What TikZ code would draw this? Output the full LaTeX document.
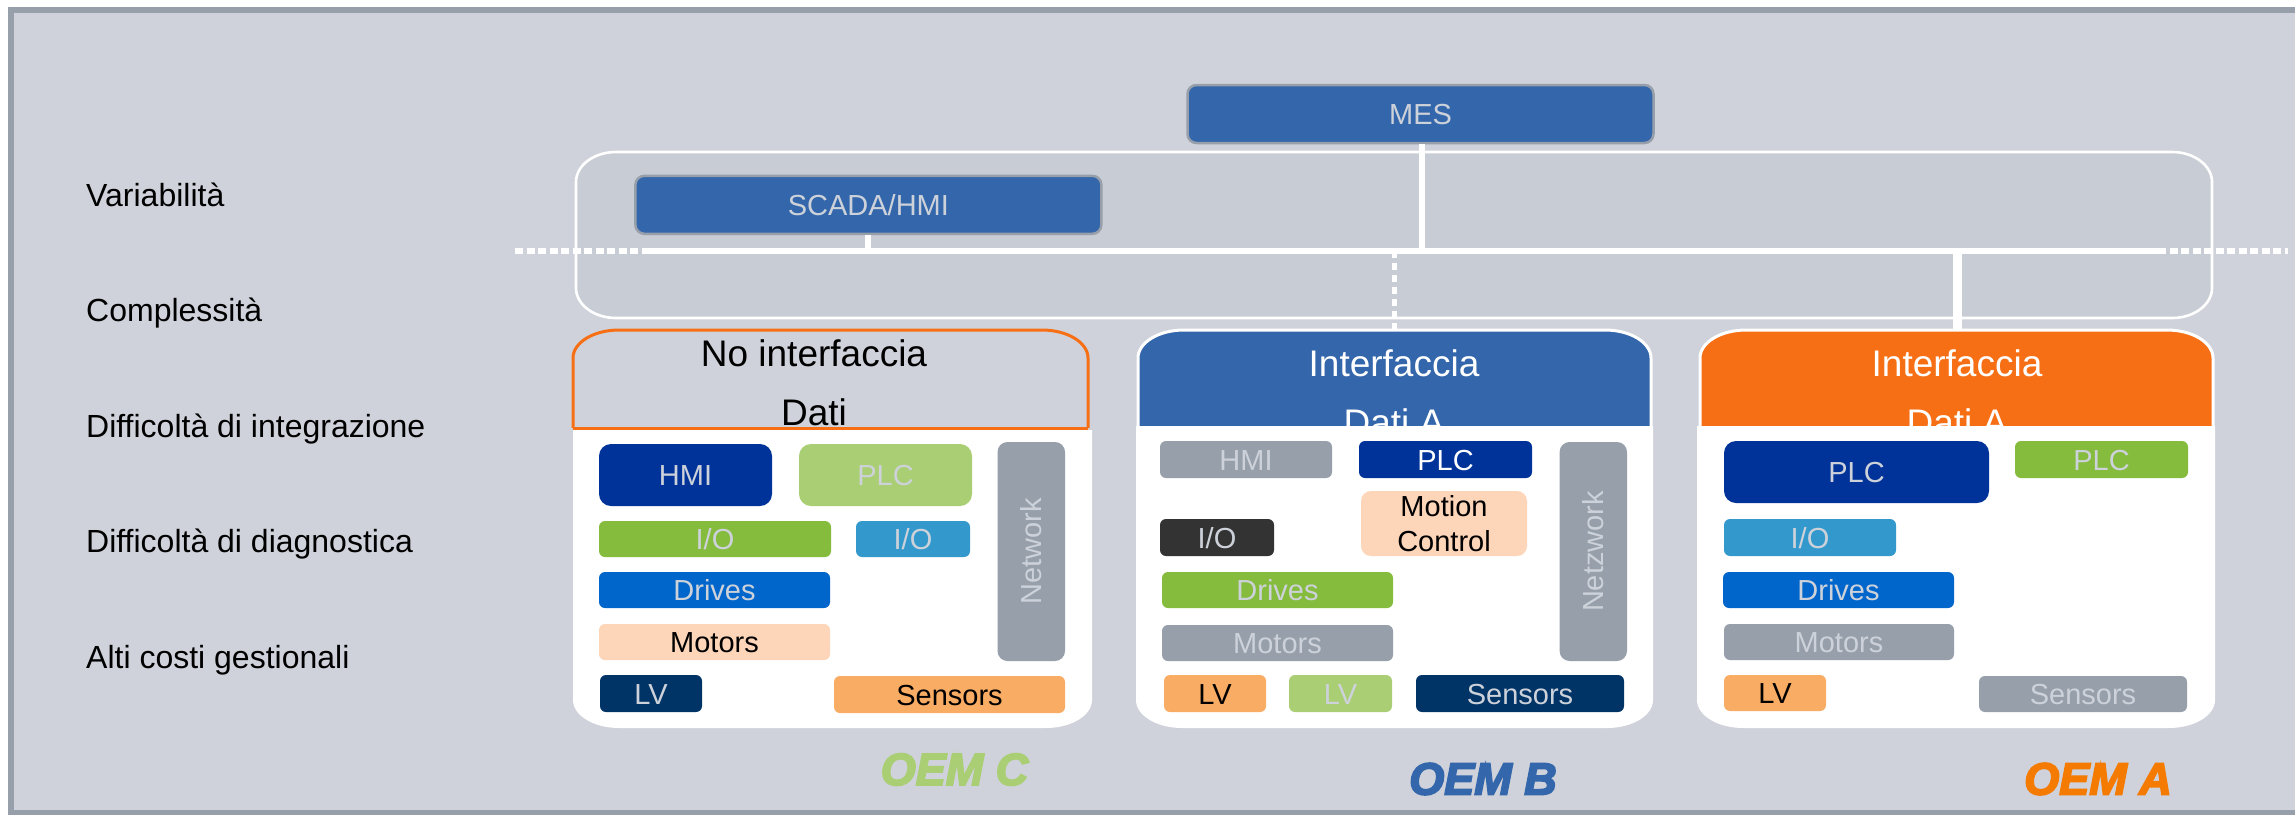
\documentclass[tikz,border=0pt]{standalone}
\usepackage{fontspec}
\setmainfont{Liberation Sans}
\newfontfamily\oemfont[BoldItalicFeatures={FakeBold=4}]{Liberation Sans}
\usepackage{xcolor}
\definecolor{mcBack}{HTML}{CFD2DA}
\definecolor{mcBand}{HTML}{C8CCD4}
\definecolor{mcFrame}{HTML}{969FAA}
\definecolor{mcSteel}{HTML}{3366AA}
\definecolor{mcOrange}{HTML}{F76F15}
\definecolor{mcOem}{HTML}{F47A00}
\definecolor{mcRoyal}{HTML}{003399}
\definecolor{mcLime}{HTML}{AACE74}
\definecolor{mcGreen}{HTML}{85BC3D}
\definecolor{mcSky}{HTML}{3399CC}
\definecolor{mcAzure}{HTML}{0066CC}
\definecolor{mcPeach}{HTML}{FDD5B8}
\definecolor{mcNavy}{HTML}{003366}
\definecolor{mcApricot}{HTML}{F9AC63}
\definecolor{mcCoal}{HTML}{333333}
\definecolor{mcText}{HTML}{CDD2DA}
\tikzset{
  hwbox/.style={rectangle,rounded corners=6pt,inner sep=0pt,text=mcText,font=\fontsize{29}{35}\selectfont,text height=21pt,text depth=0pt},
  bigbox/.style={rounded corners=12pt},
  topbox/.style={hwbox,fill=mcSteel,draw=mcFrame,line width=2.5pt,rounded corners=9pt},
  sidelabel/.style={anchor=west,inner sep=0pt,font=\fontsize{32}{38}\selectfont,text height=23pt,text depth=0pt},
  headtext/.style={anchor=base,inner sep=0pt,font=\fontsize{37}{44}\selectfont},
  oemlabel/.style={inner sep=0pt,font=\fontsize{45}{50}\oemfont\bfseries\itshape,text height=33pt,text depth=0pt},
  buswire/.style={draw=white,line width=6pt},
  busdots/.style={draw=white,line width=6pt,dash pattern=on 8pt off 3.5pt},
  panelhead/.style={line width=3pt},
}
% x1 y1 x2 y2 of a part, then its text
\newcommand{\hwpart}[7]{\node[hwbox,#1,minimum width={(#5-#3)*1pt},minimum height={(#6-#4)*1pt}] (#2) at ({(#3+#5)/2},{(#4+#6)/2}) {#7};}
\newcommand{\hwnet}[6]{\node[hwbox,rotate=90,fill=mcFrame,rounded corners=10pt,minimum width={(#5-#3)*1pt},minimum height={(#4-#2)*1pt}] (#1) at ({(#2+#4)/2},{(#3+#5)/2}) {#6};}
\newcommand{\tophead}[4]{\draw[panelhead,#1] (#2,#4) -- (#2,358) arc[start angle=180,end angle=270,x radius=46,y radius=28] -- ({#3-46},330) arc[start angle=270,end angle=360,x radius=46,y radius=28] -- (#3,#4);}
\newcommand{\lowpanel}[3]{\fill[white] (#1,#3) -- (#1,700) arc[start angle=180,end angle=90,x radius=46,y radius=28] -- ({#2-46},728) arc[start angle=90,end angle=0,x radius=46,y radius=28] -- (#2,#3) -- cycle;}

\begin{document}
\begin{tikzpicture}[x=1pt,y=-1pt]
  \useasboundingbox (0,0) rectangle (2295,815);

  % frame and band
  \fill[mcFrame] (8,7) rectangle (2295,815);
  \fill[mcBack] (14,13) rectangle (2295,810);
  \draw[white,fill=mcBand,line width=2.6pt] (576,182) arc[start angle=180,end angle=270,x radius=40,y radius=30] -- (2172,152) arc[start angle=270,end angle=360,x radius=40,y radius=30] -- (2212,288) arc[start angle=0,end angle=90,x radius=40,y radius=30] -- (616,318) arc[start angle=90,end angle=180,x radius=40,y radius=30] -- cycle;

  \node[sidelabel] (variab) at (86,195) {Variabilità};
  \node[sidelabel] (comples) at (86,310) {Complessità};
  \node[sidelabel] (integr) at (86,426) {Difficoltà di integrazione};
  \node[sidelabel] (diagn) at (86,541) {Difficoltà di diagnostica};
  \node[sidelabel] (costi) at (86,657) {Alti costi gestionali};

  \node[topbox,minimum width=466pt,minimum height=58pt] (mes) at (1420.5,114) {MES};
  \node[topbox,minimum width=466pt,minimum height=58pt] (scada) at (868.4,204.8) {SCADA/HMI};

  % bus with its dotted ends
  \coordinate (busFarL) at (515,251.3);
  \coordinate (busL) at (649,251.3);
  \coordinate (busR) at (2158,251.3);
  \coordinate (busFarR) at (2288,251.3);
  \coordinate (headTopB) at (1394.8,329);
  \coordinate (headTopA) at (1957,329);
  \draw[busdots] (busFarL) -- (busL);
  \draw[busdots] (busR) -- (busFarR);
  \draw[buswire] (busL) -- (busR);
  \draw[buswire] ([xshift=1.5pt]mes.south) -- ([xshift=1.5pt]mes.south |- busL);
  \draw[buswire] (scada.south) -- (scada.south |- busL);
  \draw[draw=white,line width=5pt,dash pattern=on 7pt off 5pt] (headTopB |- busL) -- (headTopB);
  \draw[draw=white,line width=9pt] (headTopA |- busL) -- (headTopA);

  % OEM C
  \tophead{draw=mcOrange,fill=mcBack}{573}{1088}{428}
  \draw[panelhead,mcOrange] (573,428) -- (1088,428);
  \node[headtext,text=black] (headC) at (814,366) {No interfaccia};
  \node[headtext,text=black] (headCb) at (814,425) {Dati};
  \lowpanel{573}{1092}{430}
  \hwpart{fill=mcRoyal,bigbox}{hmiC}{599}{444}{772}{506}{HMI}
  \hwpart{fill=mcLime,bigbox}{plcC}{799}{444}{972}{506}{PLC}
  \hwpart{fill=mcGreen}{ioC}{599}{521}{831}{557}{I/O}
  \hwpart{fill=mcSky}{ioCb}{856}{521}{970}{557}{I/O}
  \hwpart{fill=mcAzure}{drvC}{599}{572}{830}{608}{Drives}
  \hwpart{fill=mcPeach,text=black}{motC}{599}{624}{830}{660}{Motors}
  \hwpart{fill=mcNavy}{lvC}{600}{675}{702}{712}{LV}
  \hwpart{fill=mcApricot,text=black}{senC}{834}{676}{1065}{713}{Sensors}
  \hwnet{netC}{997.5}{442}{1065}{661}{Network}
  \node[oemlabel,text=mcLime] (oemC) at (954.5,768.5) {OEM C};

  % OEM B
  \tophead{draw=white,fill=mcSteel}{1138}{1651}{428}
  \node[headtext,text=white] (headB) at (1394,376.7) {Interfaccia};
  \node[headtext,text=white] (headBb) at (1394,435) {Dati A};
  \lowpanel{1136}{1653}{426}
  \hwpart{fill=mcFrame}{hmiB}{1160}{441}{1332}{478}{HMI}
  \hwpart{fill=mcRoyal,text=white}{plcB}{1359}{441}{1532}{478}{PLC}
  \node[hwbox,fill=mcPeach,text=black,rounded corners=10pt,minimum width=166pt,minimum height=65pt,align=center,text height=,text depth=,font=\fontsize{29}{34.7}\selectfont] (motionB) at (1444,523.5) {Motion\\Control};
  \hwpart{fill=mcCoal}{ioB}{1160}{519}{1274}{556}{I/O}
  \hwpart{fill=mcGreen}{drvB}{1162}{572}{1393}{608}{Drives}
  \hwpart{fill=mcFrame}{motB}{1162}{625}{1393}{661}{Motors}
  \hwpart{fill=mcApricot,text=black}{lvB}{1164}{675}{1266}{712}{LV}
  \hwpart{fill=mcLime}{lvBb}{1289}{675}{1392}{712}{LV}
  \hwpart{fill=mcNavy}{senB}{1416}{675}{1624}{712}{Sensors}
  \hwnet{netB}{1559.6}{442}{1627}{661}{Netzwork}
  \node[oemlabel,text=mcSteel] (oemB) at (1483,778) {OEM B};

  % OEM A
  \tophead{draw=white,fill=mcOrange}{1700}{2213}{428}
  \node[headtext,text=white] (headA) at (1957,376.7) {Interfaccia};
  \node[headtext,text=white] (headAb) at (1957,435) {Dati A};
  \lowpanel{1697}{2215}{426}
  \hwpart{fill=mcRoyal,bigbox}{plcA}{1724}{441}{1989}{503}{PLC}
  \hwpart{fill=mcGreen}{plcAb}{2015}{441}{2188}{478}{PLC}
  \hwpart{fill=mcSky}{ioA}{1724}{519}{1896}{556}{I/O}
  \hwpart{fill=mcAzure}{drvA}{1723}{572}{1954}{608}{Drives}
  \hwpart{fill=mcFrame}{motA}{1724}{624}{1954}{660}{Motors}
  \hwpart{fill=mcApricot,text=black}{lvA}{1724}{675}{1826}{711}{LV}
  \hwpart{fill=mcFrame}{senA}{1979}{676}{2187}{712}{Sensors}
  \node[oemlabel,text=mcOem] (oemA) at (2098,778) {OEM A};
\end{tikzpicture}
\end{document}
